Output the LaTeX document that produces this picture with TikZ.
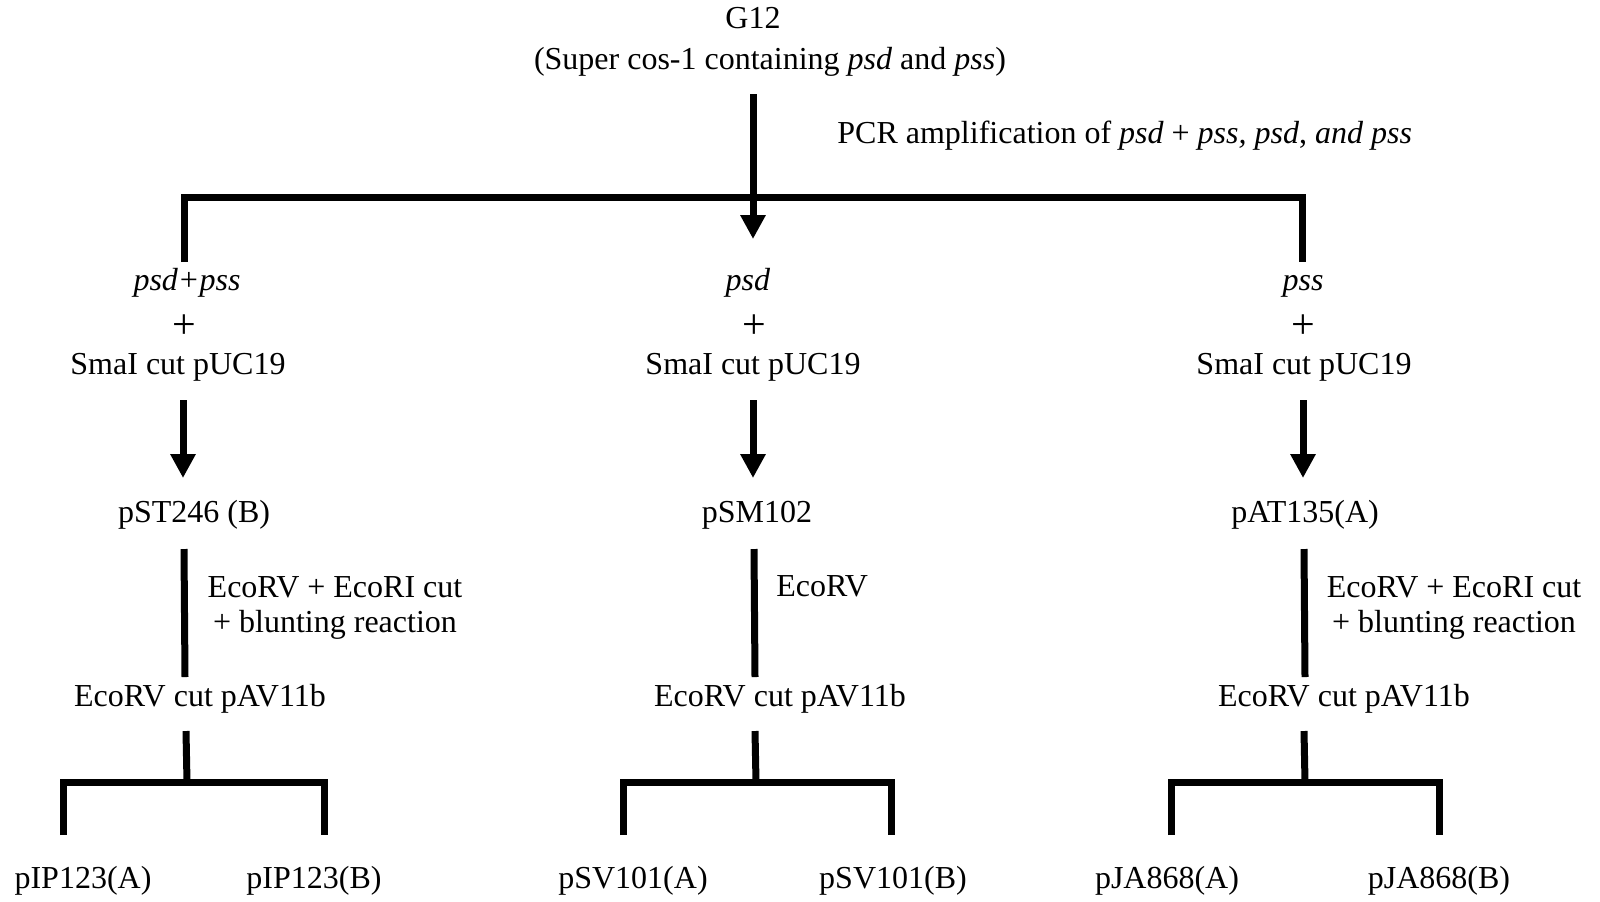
\documentclass[tikz,border=0pt]{standalone}
\usepackage{fontspec}
\setmainfont{Liberation Serif}
\usetikzlibrary{arrows.meta}
\begin{document}
\begin{tikzpicture}[x=0.5pt,y=-0.5pt,
  txt/.style={inner sep=0pt,font=\fontsize{16}{17.5}\selectfont,text height=0.7em,text depth=0.2em},
  lbl/.style={txt,align=center},
  plus/.style={inner sep=0pt,font=\fontsize{21}{21}\selectfont},
  thick line/.style={line width=3.5pt,line join=miter},
  arr/.style={line width=3.5pt,-{Triangle[width=12pt,length=12pt]}}]
\useasboundingbox (0,0) rectangle (1600,901);
% top
\node[txt] (g12) at (753,23) {G12};
\node[txt] (super) at (770,64) {(Super cos-1 containing \textit{psd} and \textit{pss})};
\node[txt,anchor=west] (pcr) at (837,138) {PCR amplification of \textit{psd} + \textit{pss, psd}, \textit{and pss}};
\coordinate (a0) at (753,94);
\coordinate (a1) at (753,239);
\coordinate (bl) at (184,262);
\coordinate (br) at (1302,262);
\draw[thick line] (bl) -- (184,197) -- (1302,197) -- (br);
\draw[arr] (a0) -- (a1);
% columns
\node[txt] (gL) at (187,285) {\textit{psd+pss}};
\node[txt] (gM) at (748,285) {\textit{psd}};
\node[txt] (gR) at (1303,285) {\textit{pss}};
\node[plus] (pL) at (184,327) {+};
\node[plus] (pM) at (754,327) {+};
\node[plus] (pR) at (1303,327) {+};
\node[txt] (sL) at (178,369) {SmaI cut pUC19};
\node[txt] (sM) at (753,369) {SmaI cut pUC19};
\node[txt] (sR) at (1304,369) {SmaI cut pUC19};
\coordinate (sLa) at (183,400); \coordinate (sLb) at (183,478);
\coordinate (sMa) at (753,400); \coordinate (sMb) at (753,478);
\coordinate (sRa) at (1303,400); \coordinate (sRb) at (1303,478);
\draw[arr] (sLa) -- (sLb);
\draw[arr] (sMa) -- (sMb);
\draw[arr] (sRa) -- (sRb);
\node[txt] (qL) at (194,517) {pST246 (B)};
\node[txt] (qM) at (757,517) {pSM102};
\node[txt] (qR) at (1305,517) {pAT135(A)};
\coordinate (qLa) at (184,549); \coordinate (qLb) at (185,677);
\coordinate (qMa) at (754,549); \coordinate (qMb) at (755,677);
\coordinate (qRa) at (1304,549); \coordinate (qRb) at (1305,677);
\draw[thick line] (qLa) -- (qLb);
\draw[thick line] (qMa) -- (qMb);
\draw[thick line] (qRa) -- (qRb);
\node[lbl] (eL) at (335,627) {EcoRV + EcoRI cut\\+ blunting reaction};
\node[txt,anchor=west] (eM) at (776,591) {EcoRV};
\node[lbl] (eR) at (1454,627) {EcoRV + EcoRI cut\\+ blunting reaction};
\node[txt] (vL) at (200,701) {EcoRV cut pAV11b};
\node[txt] (vM) at (780,701) {EcoRV cut pAV11b};
\node[txt] (vR) at (1344,701) {EcoRV cut pAV11b};
% bottom brackets
\coordinate (vLa) at (186,731); \coordinate (vLb) at (187,782);
\coordinate (vMa) at (755,731); \coordinate (vMb) at (756,782);
\coordinate (vRa) at (1304,731); \coordinate (vRb) at (1305,782);
\draw[thick line] (vLa) -- (vLb);
\draw[thick line] (vMa) -- (vMb);
\draw[thick line] (vRa) -- (vRb);
\draw[thick line] (63,835) -- (63,782) -- (324,782) -- (324,835);
\draw[thick line] (623,835) -- (623,782) -- (891,782) -- (891,835);
\draw[thick line] (1171,835) -- (1171,782) -- (1439,782) -- (1439,835);
\node[txt] (b1) at (83,883) {pIP123(A)};
\node[txt] (b2) at (314,883) {pIP123(B)};
\node[txt] (b3) at (633,883) {pSV101(A)};
\node[txt] (b4) at (893,883) {pSV101(B)};
\node[txt] (b5) at (1167,883) {pJA868(A)};
\node[txt] (b6) at (1439,883) {pJA868(B)};
\end{tikzpicture}
\end{document}
